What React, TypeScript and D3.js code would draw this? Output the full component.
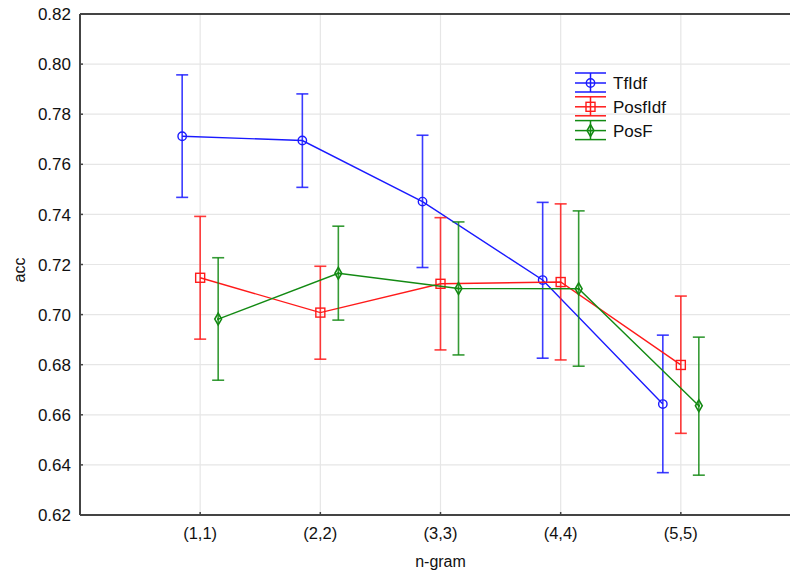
import React, { useRef, useEffect } from 'react'
import * as d3 from 'd3'

const categories = ['(1,1)', '(2,2)', '(3,3)', '(4,4)', '(5,5)']
const seriesNames = ['TfIdf', 'PosfIdf', 'PosF']

const tfidfMean = [0.7712, 0.7695, 0.7451, 0.7138, 0.6643]
const tfidfLow = [0.7468, 0.7508, 0.7188, 0.6826, 0.6369]
const tfidfHigh = [0.7957, 0.7881, 0.7716, 0.7448, 0.6918]

const posfidfMean = [0.7147, 0.7008, 0.7123, 0.7130, 0.6799]
const posfidfLow = [0.6902, 0.6822, 0.6859, 0.6819, 0.6526]
const posfidfHigh = [0.7392, 0.7193, 0.7387, 0.7442, 0.7074]

const posfMean = [0.6982, 0.7165, 0.7104, 0.7103, 0.6636]
const posfLow = [0.6738, 0.6978, 0.6839, 0.6794, 0.6359]
const posfHigh = [0.7227, 0.7353, 0.7370, 0.7414, 0.6910]

const yTicks = [0.62, 0.64, 0.66, 0.68, 0.70, 0.72, 0.74, 0.76, 0.78, 0.80, 0.82]

const colors = ['#1a1aff', '#ff1a1a', '#138a13']
const markers = ['circle', 'square', 'diamond']
const dodge = [-18, 0, 18]

export default function App() {
  const svgRef = useRef<SVGSVGElement | null>(null)

  useEffect(() => {
    if (!svgRef.current) return
    const svg = d3.select(svgRef.current)
    svg.selectAll('*').remove()

    const width = 790
    const height = 571
    const left = 80
    const top = 14
    const bottom = 515
    const right = 801

    const font = 'Liberation Sans, Arial, sans-serif'

    const x = d3.scalePoint<string>().domain(categories).range([left, right]).padding(1)
    const y = d3.scaleLinear().domain([0.62, 0.82]).range([bottom, top])

    svg.attr('width', width).attr('height', height)
    svg.append('rect').attr('width', width).attr('height', height).attr('fill', '#fff')

    // grid
    const grid = svg.append('g')
    grid.selectAll('line.h').data(yTicks.slice(1, -1)).enter().append('line')
      .attr('x1', left).attr('x2', width)
      .attr('y1', d => y(d)).attr('y2', d => y(d))
      .attr('stroke', '#e6e6e6').attr('stroke-width', 1.2)
    grid.selectAll('line.v').data(categories).enter().append('line')
      .attr('y1', top).attr('y2', bottom)
      .attr('x1', d => x(d)!).attr('x2', d => x(d)!)
      .attr('stroke', '#e6e6e6').attr('stroke-width', 1.2)

    // frame
    svg.append('line').attr('x1', left).attr('x2', width).attr('y1', top).attr('y2', top)
      .attr('stroke', '#444').attr('stroke-width', 2)
    svg.append('line').attr('x1', left).attr('x2', width).attr('y1', bottom).attr('y2', bottom)
      .attr('stroke', '#444').attr('stroke-width', 2)
    svg.append('line').attr('x1', left).attr('x2', left).attr('y1', top).attr('y2', bottom)
      .attr('stroke', '#444').attr('stroke-width', 2)

    // y ticks
    const yAx = svg.append('g')
    yTicks.forEach(t => {
      yAx.append('line').attr('x1', left).attr('x2', left + 3).attr('y1', y(t)).attr('y2', y(t))
        .attr('stroke', '#444').attr('stroke-width', 1.5)
      yAx.append('text').attr('x', left - 9).attr('y', y(t)).attr('dy', '0.36em')
        .attr('text-anchor', 'end').attr('font-family', font).attr('font-size', 17)
        .attr('fill', '#111').text(d3.format('.2f')(t))
    })

    // x ticks
    categories.forEach(c => {
      svg.append('line').attr('x1', x(c)!).attr('x2', x(c)!).attr('y1', bottom).attr('y2', bottom - 3)
        .attr('stroke', '#444').attr('stroke-width', 1.5)
      svg.append('text').attr('x', x(c)!).attr('y', 539).attr('text-anchor', 'middle')
        .attr('font-family', font).attr('font-size', 16.5).attr('fill', '#111').text(c)
    })

    svg.append('text').attr('x', x(categories[2])!).attr('y', 567).attr('text-anchor', 'middle')
      .attr('font-family', font).attr('font-size', 16).attr('fill', '#111').text('n-gram')
    svg.append('text').attr('transform', 'translate(25,270) rotate(-90)').attr('text-anchor', 'middle')
      .attr('font-family', font).attr('font-size', 16).attr('fill', '#111').text('acc')

    const drawMarker = (g: any, kind: string, cx: number, cy: number, color: string) => {
      if (kind === 'circle') {
        g.append('circle').attr('cx', cx).attr('cy', cy).attr('r', 4.2)
          .attr('fill', 'none').attr('stroke', color).attr('stroke-width', 1.4)
      } else if (kind === 'square') {
        g.append('rect').attr('x', cx - 4.5).attr('y', cy - 4.5).attr('width', 9).attr('height', 9)
          .attr('fill', 'none').attr('stroke', color).attr('stroke-width', 1.4)
      } else {
        const s = d3.symbol().type(d3.symbolDiamond).size(40)
        g.append('path').attr('d', s()).attr('transform', `translate(${cx},${cy})`)
          .attr('fill', 'none').attr('stroke', color).attr('stroke-width', 1.6)
        g.append('circle').attr('cx', cx).attr('cy', cy).attr('r', 1.2).attr('fill', color)
      }
    }

    const series = [
      { mean: tfidfMean, low: tfidfLow, high: tfidfHigh },
      { mean: posfidfMean, low: posfidfLow, high: posfidfHigh },
      { mean: posfMean, low: posfLow, high: posfHigh },
    ]

    series.forEach((s, si) => {
      const g = svg.append('g')
      const color = colors[si]
      const px = (i: number) => x(categories[i])! + dodge[si]
      const ln = d3.line<number>().x((_, i) => px(i)).y(d => y(d))
      g.append('path').attr('d', ln(s.mean)).attr('fill', 'none')
        .attr('stroke', color).attr('stroke-width', 1.4)
      s.mean.forEach((m, i) => {
        const cx = px(i)
        g.append('line').attr('x1', cx).attr('x2', cx).attr('y1', y(s.low[i])).attr('y2', y(s.high[i]))
          .attr('stroke', color).attr('stroke-width', 1.6).attr('opacity', 0.85)
        ;[s.low[i], s.high[i]].forEach(v => {
          g.append('line').attr('x1', cx - 6).attr('x2', cx + 6).attr('y1', y(v)).attr('y2', y(v))
            .attr('stroke', color).attr('stroke-width', 1.6).attr('opacity', 0.85)
        })
        drawMarker(g, markers[si], cx, y(m), color)
      })
    })

    // legend
    const lg = svg.append('g')
    seriesNames.forEach((name, i) => {
      const cy = 83 + i * 23.8
      const color = colors[i]
      const x0 = 575
      const x1 = 606
      const xm = (x0 + x1) / 2
      ;[cy - 10, cy, cy + 9].forEach(yy => {
        lg.append('line').attr('x1', x0).attr('x2', x1).attr('y1', yy).attr('y2', yy)
          .attr('stroke', color).attr('stroke-width', 1.5)
      })
      lg.append('line').attr('x1', xm).attr('x2', xm).attr('y1', cy - 10).attr('y2', cy + 9)
        .attr('stroke', color).attr('stroke-width', 1.5)
      drawMarker(lg, markers[i], xm, cy, color)
      lg.append('text').attr('x', 613).attr('y', cy).attr('dy', '0.36em')
        .attr('font-family', font).attr('font-size', 17).attr('fill', '#111').text(name)
    })
  }, [])

  return (
    <svg ref={svgRef} width={790} height={571} style={{ position: 'absolute', left: 0, top: 0 }} />
  )
}
